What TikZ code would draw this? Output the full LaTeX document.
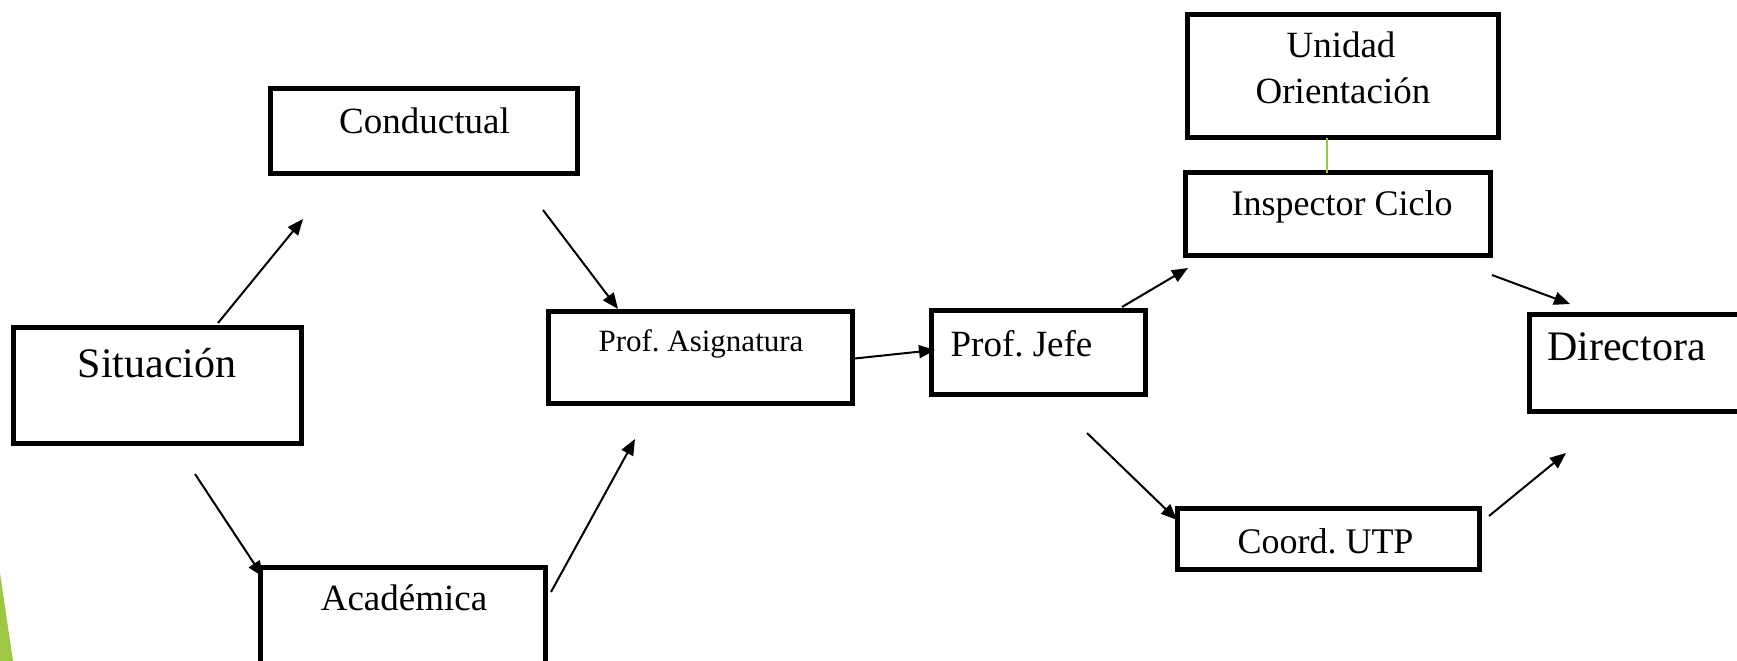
\documentclass[tikz,border=0pt]{standalone}
\usepackage{fontspec}
\setmainfont{Liberation Serif}
\usetikzlibrary{arrows.meta}
\definecolor{leaf}{RGB}{158,200,68}
\frenchspacing
\tikzset{
  box/.style={draw=black, line width=5pt, inner sep=0pt, outer sep=0pt, fill=white},
  conn/.style={draw=black, line width=2pt, -{Triangle[length=16pt,width=13pt]}},
  lbl/.style={anchor=base, inner sep=0pt},
}
\newcommand{\fs}[1]{\fontsize{#1}{#1}\selectfont}
\begin{document}
\begin{tikzpicture}[x=1pt,y=-1pt]
\useasboundingbox (0,0) rectangle (1737,661);
% decorative green sliver
\fill[leaf] (0,573) -- (13,661) -- (0,661) -- cycle;
% boxes
\node[box, minimum width=288pt, minimum height=116pt] (sit) at (157.5,385.5) {};
\node[box, minimum width=307pt, minimum height=85pt] (con) at (424,131) {};
\node[box, minimum width=304pt, minimum height=92pt] (asg) at (700.5,357.5) {};
\node[box, minimum width=214pt, minimum height=84pt] (jef) at (1038.5,352.5) {};
\node[box, minimum width=285pt, minimum height=125pt] (aca) at (403,630) {};
\node[box, minimum width=311pt, minimum height=123pt] (uni) at (1343,76) {};
\node[box, minimum width=305pt, minimum height=83pt] (ins) at (1338,214) {};
\node[box, minimum width=302pt, minimum height=61pt] (utp) at (1328.5,539) {};
\node[box, minimum width=240pt, minimum height=97pt] (dir) at (1649.5,363) {};
% texts
\node[lbl] (tsit) at (157,377) {\fs{42}Situación};
\node[lbl] (tcon) at (424.5,133) {\fs{37}Conductual};
\node[lbl] (tasg) at (701,351) {\fs{31}Prof. Asignatura};
\node[lbl] (tjef) at (1021.5,356) {\fs{37}Prof. Jefe};
\node[lbl] (taca) at (404,610) {\fs{37}Académica};
\node[lbl] (tuni1) at (1341,58) {\fs{37}Unidad};
\node[lbl] (tuni2) at (1343,103) {\fs{37}Orientación};
\node[lbl] (tins) at (1342,215) {\fs{36}Inspector Ciclo};
\node[lbl] (tutp) at (1325.5,553) {\fs{36}Coord. UTP};
\node[lbl, anchor=base west] (tdir) at (1547,360) {\fs{42}Directora};
% green link
\draw[leaf, line width=2.5pt] (1327,0 |- uni.south) -- (1327,0 |- ins.north);
% connector end points
\coordinate (a1s) at (218,323);  \coordinate (a1e) at (303,219);
\coordinate (a2s) at (543,210);  \coordinate (a2e) at (618,309);
\coordinate (a3s) at (195,474);  \coordinate (a3e) at (263,577);
\coordinate (a4s) at (551,592);  \coordinate (a4e) at (635,439);
\coordinate (a5s) at (850,359);  \coordinate (a5e) at (935,350);
\coordinate (a6s) at (1122,307); \coordinate (a6e) at (1188,268);
\coordinate (a7s) at (1087,433); \coordinate (a7e) at (1177,520);
\coordinate (a8s) at (1492,275); \coordinate (a8e) at (1570,304);
\coordinate (a9s) at (1489,516); \coordinate (a9e) at (1566,453);
\foreach \i in {1,...,9}{\draw[conn] (a\i s) -- (a\i e);}
\end{tikzpicture}
\end{document}
